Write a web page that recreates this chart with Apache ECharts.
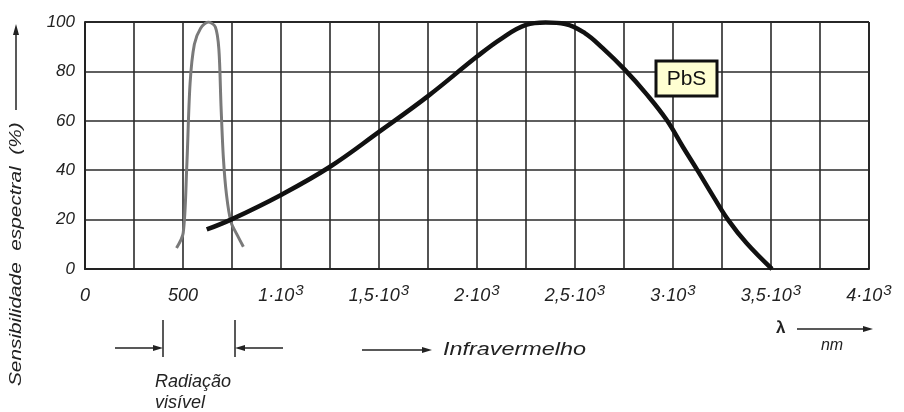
<!DOCTYPE html>
<html><head><meta charset="utf-8">
<script src="https://cdn.jsdelivr.net/npm/echarts@6/dist/echarts.min.js"></script>
<style>html,body{margin:0;padding:0;background:#fff}#c{width:904px;height:412px}</style>
</head><body><div id="c"></div>
<script>
// PbS spectral sensitivity (nm, %)
var pbsX = [621, 750, 1000, 1250, 1500, 1750, 2000, 2125, 2250, 2350, 2450, 2550, 2640, 2755, 2865, 2968, 3050, 3129, 3206, 3282, 3376, 3505];
var pbsY = [16, 20.2, 30, 41.4, 55.5, 70, 86, 93.3, 98.8, 99.8, 99.2, 95.5, 89.5, 80.6, 70.8, 60.3, 49.5, 39.4, 29.3, 19.8, 10.4, 0];
// Visible radiation (eye) sensitivity
var visX = [467, 501, 519, 536, 558, 590, 629, 665, 683, 694, 706, 722, 745, 775, 808];
var visY = [8.5, 14.6, 41, 75, 91, 97.5, 100, 98, 89, 66, 45, 30, 19, 14, 9];
// tick labels
var xTickVals = [0, 500, 1000, 1500, 2000, 2500, 3000, 3500, 4000];
var xTickLabels = ['0', '500', '1·10|3', '1,5·10|3', '2·10|3', '2,5·10|3', '3·10|3', '3,5·10|3', '4·10|3'];
var yTicks = [0, 20, 40, 60, 80, 100];

function zip(a, b) { return a.map(function (v, i) { return [v, b[i]]; }); }
var FONT = '"Liberation Sans", Arial, sans-serif';

var chart = echarts.init(document.getElementById('c'), null, { renderer: 'canvas' });
chart.setOption({
  animation: false,
  backgroundColor: '#fff',
  grid: { left: 85, right: 35, top: 22, bottom: 143 },
  xAxis: {
    type: 'value', min: 0, max: 4000, interval: 250,
    axisLine: { show: true, lineStyle: { color: '#222', width: 2 } },
    axisTick: { show: false },
    splitLine: { show: true, lineStyle: { color: '#2a2a2a', width: 1.6 } },
    axisLabel: {
      margin: 16,
      formatter: function (v) {
        var i = xTickVals.indexOf(v);
        if (i < 0) return '';
        var p = xTickLabels[i].split('|');
        return p.length > 1 ? '{a|' + p[0] + '}{s|' + p[1] + '}' : '{a|' + p[0] + '}';
      },
      rich: {
        a: { fontFamily: FONT, fontStyle: 'italic', fontSize: 18, color: '#222', lineHeight: 22 },
        s: { fontFamily: FONT, fontStyle: 'italic', fontSize: 15, color: '#222', lineHeight: 22, padding: [0, 0, 11, 1] }
      }
    }
  },
  yAxis: {
    type: 'value', min: 0, max: 100, interval: 20,
    axisLine: { show: true, lineStyle: { color: '#222', width: 2 } },
    axisTick: { show: false },
    splitLine: { show: true, lineStyle: { color: '#2a2a2a', width: 1.6 } },
    axisLabel: { margin: 10, fontFamily: FONT, fontStyle: 'italic', fontSize: 17, color: '#222',
      formatter: function (v) { return yTicks.indexOf(v) >= 0 ? String(v) : ''; } }
  },
  series: [
    { type: 'line', data: zip(visX, visY), smooth: 0.3, showSymbol: false,
      lineStyle: { color: '#7a7a7a', width: 3 }, z: 3 },
    { type: 'line', data: zip(pbsX, pbsY), smooth: 0.4, showSymbol: false,
      lineStyle: { color: '#111', width: 4.5 }, z: 4 }
  ],
  graphic: [
    // right / top border of the grid
    { type: 'line', shape: { x1: 869, y1: 22, x2: 869, y2: 269 }, style: { stroke: '#222', lineWidth: 2 } },
    { type: 'line', shape: { x1: 85, y1: 22, x2: 869, y2: 22 }, style: { stroke: '#222', lineWidth: 2 } },
    // PbS label
    { type: 'rect', shape: { x: 656, y: 61, width: 61, height: 35 }, style: { fill: '#ffffd2', stroke: '#111', lineWidth: 3 }, z: 10 },
    { type: 'text', x: 686.5, y: 79, style: { text: 'PbS', fontFamily: FONT, fontSize: 21, fill: '#111', textAlign: 'center', textVerticalAlign: 'middle' }, z: 11 },
    // Y axis title
    { type: 'text', x: 17, y: 386, rotation: Math.PI / 2, scaleX: 1.3, style: { text: 'Sensibilidade  espectral  (%)', fontFamily: FONT, fontStyle: 'italic', fontSize: 16, fill: '#222', textAlign: 'left', textVerticalAlign: 'middle' } },
    { type: 'line', shape: { x1: 16, y1: 110, x2: 16, y2: 32 }, style: { stroke: '#222', lineWidth: 1.5 } },
    { type: 'polygon', shape: { points: [[16, 24], [13, 35], [19, 35]] }, style: { fill: '#222' } },
    // visible radiation markers
    { type: 'line', shape: { x1: 163, y1: 320, x2: 163, y2: 357 }, style: { stroke: '#222', lineWidth: 1.5 } },
    { type: 'line', shape: { x1: 115, y1: 348, x2: 158, y2: 348 }, style: { stroke: '#222', lineWidth: 1.5 } },
    { type: 'polygon', shape: { points: [[163, 348], [153, 345], [153, 351]] }, style: { fill: '#222' } },
    { type: 'line', shape: { x1: 235, y1: 320, x2: 235, y2: 357 }, style: { stroke: '#222', lineWidth: 1.5 } },
    { type: 'line', shape: { x1: 283, y1: 348, x2: 240, y2: 348 }, style: { stroke: '#222', lineWidth: 1.5 } },
    { type: 'polygon', shape: { points: [[235, 348], [245, 345], [245, 351]] }, style: { fill: '#222' } },
    { type: 'text', x: 155, y: 382, scaleX: 1.0, style: { text: 'Radiação', fontFamily: FONT, fontStyle: 'italic', fontSize: 18, fill: '#222', textVerticalAlign: 'middle' } },
    { type: 'text', x: 155, y: 403, scaleX: 1.0, style: { text: 'visível', fontFamily: FONT, fontStyle: 'italic', fontSize: 18, fill: '#222', textVerticalAlign: 'middle' } },
    // infrared
    { type: 'line', shape: { x1: 362, y1: 350, x2: 425, y2: 350 }, style: { stroke: '#222', lineWidth: 1.5 } },
    { type: 'polygon', shape: { points: [[432, 350], [422, 347], [422, 353]] }, style: { fill: '#222' } },
    { type: 'text', x: 443, y: 350, scaleX: 1.3, style: { text: 'Infravermelho', fontFamily: FONT, fontStyle: 'italic', fontSize: 18, fill: '#222', textVerticalAlign: 'middle' } },
    // lambda
    { type: 'text', x: 776, y: 328, style: { text: 'λ', fontFamily: FONT, fontSize: 17, fontWeight: 'bold', fill: '#222', textVerticalAlign: 'middle' } },
    { type: 'line', shape: { x1: 797, y1: 329, x2: 866, y2: 329 }, style: { stroke: '#222', lineWidth: 1.5 } },
    { type: 'polygon', shape: { points: [[873, 329], [863, 326], [863, 332]] }, style: { fill: '#222' } },
    { type: 'text', x: 832, y: 346, style: { text: 'nm', fontFamily: FONT, fontStyle: 'italic', fontSize: 16, fill: '#222', textAlign: 'center', textVerticalAlign: 'middle' } }
  ]
});
</script></body></html>
